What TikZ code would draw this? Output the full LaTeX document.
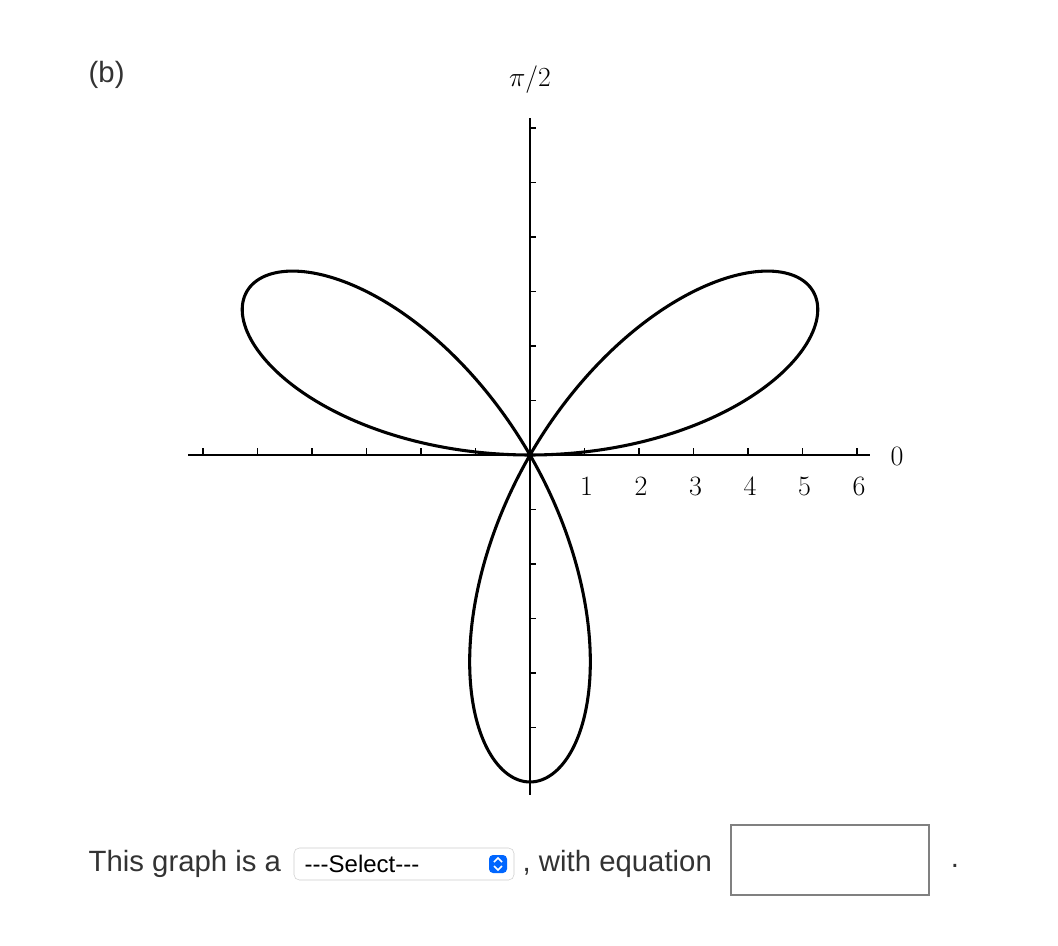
\documentclass[tikz,border=0pt]{standalone}
\usepackage{fontspec}
\newfontfamily\uisans{Liberation Sans}
\begin{document}
\begin{tikzpicture}[x=0.75pt,y=-0.75pt,
  ax/.style={line width=1pt,black},
  num/.style={font=\fontsize{21}{24}\selectfont},
  ui/.style={font=\uisans\fontsize{22}{26}\selectfont,text=black!80}]
\useasboundingbox (0,0) rectangle (1058,946);
\coordinate (O) at (530,455);
\node[ui,anchor=west] (b) at (84,75) {(b)};
% axes
\draw[ax] (188,455) -- (870,455);
\draw[ax] (530,118) -- (530,795);
\foreach \k in {-6,...,6} {\ifnum\k=0\else
  \draw[ax] (530+54.5*\k,455) -- ++(0,-7);
  \draw[ax] (530,455-54.5*\k) -- ++(6,0);
\fi}
\foreach \k in {1,...,6} \node[num] (n\k) at (530+54.5*\k+2,486) {\k};
\node[num] (z) at (897,456) {0};
\node[num] (p2) at (530,80) {$\pi/2$};
% rose
\draw[line width=2.3pt,line join=round] plot[domain=0:180,samples=361,smooth]
  ({530+327*sin(3*\x)*cos(\x)},{455-327*sin(3*\x)*sin(\x)});
% bottom text
\node[ui,anchor=west] (t1) at (84,864) {This graph is a};
\draw[black!20,rounded corners=4pt] (294,848) rectangle (514,880);
\node[font=\uisans\fontsize{18}{20}\selectfont,anchor=west] (sel) at (300,864) {---Select---};
\fill[blue!60!cyan,rounded corners=3pt] (489,855) rectangle (507,873);
\draw[white,line width=1.2pt] (494,862) -- (498,858) -- (502,862) (494,866) -- (498,870) -- (502,866);
\node[ui,anchor=west] (t2) at (518,864) {, with equation};
\draw[black!50,line width=1pt] (731,825) rectangle (929,895);
\node[ui] (dot) at (955,866) {.};
\end{tikzpicture}
\end{document}
